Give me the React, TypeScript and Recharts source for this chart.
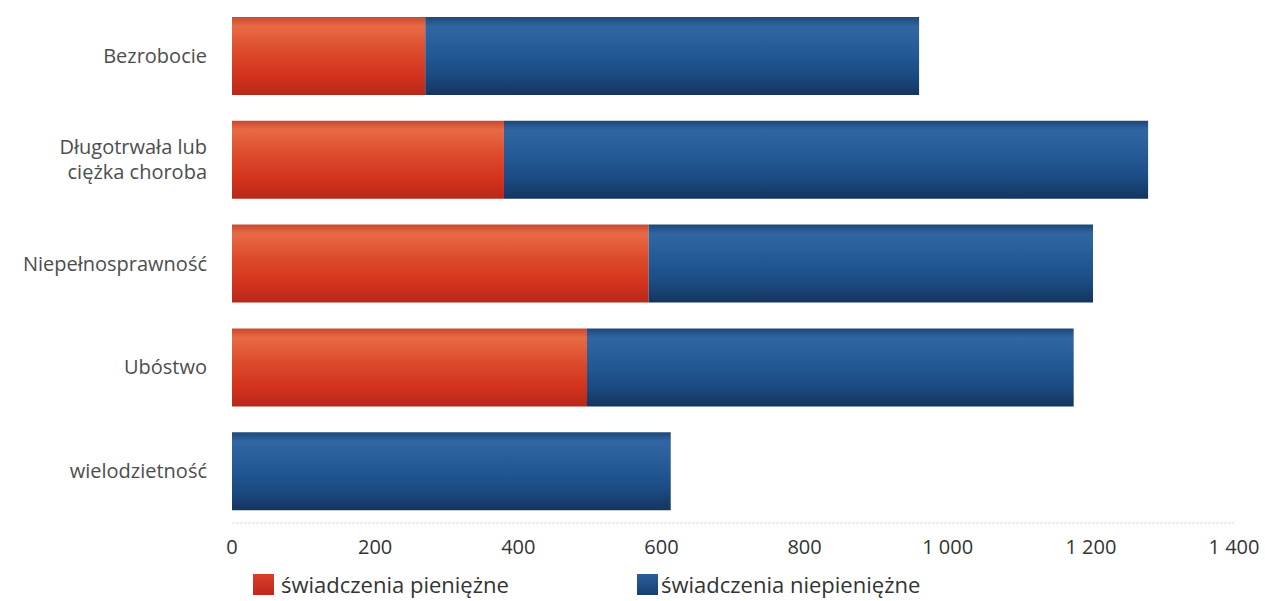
import React from "react";
import { BarChart, Bar, XAxis, YAxis, Legend } from "recharts";

const categories = [
  "Bezrobocie",
  "Długotrwała lub\nciężka choroba",
  "Niepełnosprawność",
  "Ubóstwo",
  "wielodzietność",
];
const cashBenefits = [270, 380, 582, 496, 0];
const nonCashBenefits = [690, 900, 621, 680, 613];
const xTicks = [0, 200, 400, 600, 800, 1000, 1200, 1400];
const seriesNames = ["świadczenia pieniężne", "świadczenia niepieniężne"];

const data = categories.map((c, i) => ({
  name: c,
  cash: cashBenefits[i],
  noncash: nonCashBenefits[i],
}));

const FONT = "'Open Sans', sans-serif";

const fmt = (v: number) =>
  v >= 1000 ? `${Math.floor(v / 1000)} ${String(v % 1000).padStart(3, "0")}` : String(v);

const YTick = (props: any) => {
  const { x, y, payload } = props;
  const lines = String(payload.value).split("\n");
  const lh = 25;
  const start = -((lines.length - 1) * lh) / 2;
  return (
    <text
      x={x - 17}
      y={y}
      textAnchor="end"
      fill="#4d4d4d"
      fontSize={20}
      fontFamily={FONT}
    >
      {lines.map((l, i) => (
        <tspan key={i} x={x - 17} dy={i === 0 ? start + 7 : lh}>
          {l}
        </tspan>
      ))}
    </text>
  );
};

const LegendContent = () => (
  <div style={{ position: "relative", height: 36, fontFamily: FONT, fontSize: 22, color: "#333" }}>
    <div style={{ position: "absolute", left: 253, top: 4, display: "flex", alignItems: "center" }}>
      <span style={{ width: 21, height: 21, background: "linear-gradient(#d8402a, #c4241b)", display: "inline-block", marginRight: 7 }} />
      <span>{seriesNames[0]}</span>
    </div>
    <div style={{ position: "absolute", left: 637, top: 4, display: "flex", alignItems: "center" }}>
      <span style={{ width: 21, height: 21, background: "linear-gradient(#2a5f9c, #173f70)", display: "inline-block", marginRight: 3 }} />
      <span>{seriesNames[1]}</span>
    </div>
  </div>
);

export default function App() {
  return (
    <div style={{ position: "absolute", left: 0, top: 0, width: 1265, height: 601, background: "#fff" }}>
      <BarChart
        width={1265}
        height={601}
        data={data}
        layout="vertical"
        margin={{ top: 4, right: 31, bottom: 0, left: 0 }}
        barSize={78}
      >
        <defs>
          <linearGradient id="gRed" x1="0" y1="0" x2="0" y2="1">
            <stop offset="0%" stopColor="#c94a30" />
            <stop offset="12%" stopColor="#e86a45" />
            <stop offset="45%" stopColor="#dc4a2a" />
            <stop offset="75%" stopColor="#d3321d" />
            <stop offset="100%" stopColor="#b8281a" />
          </linearGradient>
          <linearGradient id="gBlue" x1="0" y1="0" x2="0" y2="1">
            <stop offset="0%" stopColor="#1d4878" />
            <stop offset="12%" stopColor="#3166a2" />
            <stop offset="45%" stopColor="#235a96" />
            <stop offset="75%" stopColor="#1b4a82" />
            <stop offset="100%" stopColor="#15345e" />
          </linearGradient>
        </defs>
        <XAxis
          type="number"
          domain={[0, 1400]}
          ticks={xTicks}
          tickFormatter={fmt}
          axisLine={{ stroke: "#d5dbe6", strokeDasharray: "3 1" }}
          tickLine={false}
          tickMargin={11}
          height={42}
          tick={{ fill: "#333", fontSize: 20, fontFamily: FONT }}
          interval={0}
        />
        <YAxis
          type="category"
          dataKey="name"
          width={232}
          axisLine={false}
          tickLine={false}
          tick={<YTick />}
          interval={0}
        />
        <Legend verticalAlign="bottom" height={36} content={<LegendContent />} />
        <Bar dataKey="cash" stackId="a" fill="url(#gRed)" isAnimationActive={false} name={seriesNames[0]} />
        <Bar dataKey="noncash" stackId="a" fill="url(#gBlue)" isAnimationActive={false} name={seriesNames[1]} />
      </BarChart>
    </div>
  );
}
